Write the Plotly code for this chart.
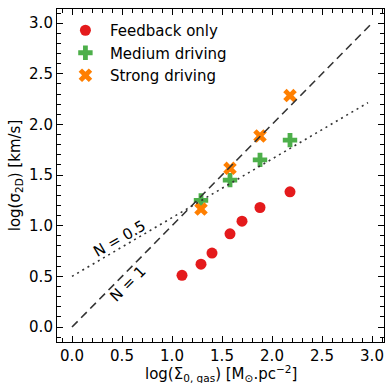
import plotly.graph_objects as go

# Data
fb_x = [1.10, 1.29, 1.40, 1.58, 1.70, 1.88, 2.18]
fb_y = [0.51, 0.62, 0.73, 0.92, 1.045, 1.18, 1.335]
med_x = [1.29, 1.58, 1.88, 2.18]
med_y = [1.25, 1.45, 1.65, 1.845]
str_x = [1.29, 1.58, 1.88, 2.18]
str_y = [1.165, 1.567, 1.886, 2.285]
n1_x = [0.0, 3.0]
n1_y = [0.0, 3.0]
n05_x = [0.0, 2.96]
n05_y = [0.5, 2.215]

RED = "#e41a1c"
GREEN = "#4daf4a"
ORANGE = "#ff7f00"
FONT = "DejaVu Sans"

fig = go.Figure()
fig.add_trace(go.Scatter(x=fb_x, y=fb_y, mode="markers", name="Feedback only",
                         marker=dict(symbol="circle", size=11, color=RED)))
fig.add_trace(go.Scatter(x=med_x, y=med_y, mode="markers", name="Medium driving",
                         marker=dict(symbol="cross", size=12, color=GREEN)))
fig.add_trace(go.Scatter(x=str_x, y=str_y, mode="markers", name="Strong driving",
                         marker=dict(symbol="x", size=12, color=ORANGE)))
fig.add_trace(go.Scatter(x=n1_x, y=n1_y, mode="lines", showlegend=False,
                         line=dict(color="#333333", width=1.6, dash="8px,5px")))
fig.add_trace(go.Scatter(x=n05_x, y=n05_y, mode="lines", showlegend=False,
                         line=dict(color="#333333", width=1.6, dash="2px,4px")))

fig.add_annotation(x=0.47, y=0.87, text="N = 0.5", showarrow=False, textangle=-30,
                   font=dict(family=FONT, size=15, color="black"))
fig.add_annotation(x=0.56, y=0.42, text="N = 1", showarrow=False, textangle=-45,
                   font=dict(family=FONT, size=15, color="black"))
# x-axis title
fig.add_annotation(x=0.5, y=0, xref="paper", yref="paper", yanchor="middle", yshift=-31,
                   text="log(Σ<sub>0, gas</sub>) [M<sub>⊙</sub>.pc<sup>−2</sup>]",
                   showarrow=False, font=dict(family=FONT, size=15, color="black"))

axis_common = dict(
    showline=True, linecolor="black", linewidth=1.1, mirror="allticks",
    ticks="inside", ticklen=6, tickwidth=1.1, tickcolor="black",
    showgrid=False, zeroline=False, automargin=False,
    tickfont=dict(family=FONT, size=15, color="black"),
    minor=dict(ticks="inside", ticklen=3.5, tickwidth=1, tickcolor="black", dtick=0.1, showgrid=False),
)

fig.update_layout(
    width=386, height=383,
    margin=dict(l=57, r=2, t=9, b=41),
    plot_bgcolor="white", paper_bgcolor="white",
    font=dict(family=FONT, size=15, color="black"),
    xaxis=dict(range=[-0.15, 3.12], tick0=0, dtick=0.5, tickformat=".1f",
               **axis_common),
    yaxis=dict(range=[-0.148, 3.14], tick0=0, dtick=0.5, tickformat=".1f",
               title=dict(text="log(σ<sub>2D</sub>) [km/s]",
                          font=dict(family=FONT, size=15), standoff=4),
               **axis_common),
    legend=dict(x=0.012, y=0.985, xanchor="left", yanchor="top",
                bgcolor="rgba(0,0,0,0)", font=dict(family=FONT, size=15),
                tracegroupgap=0, itemwidth=39),
    showlegend=True,
)

fig.write_html("out.html")
